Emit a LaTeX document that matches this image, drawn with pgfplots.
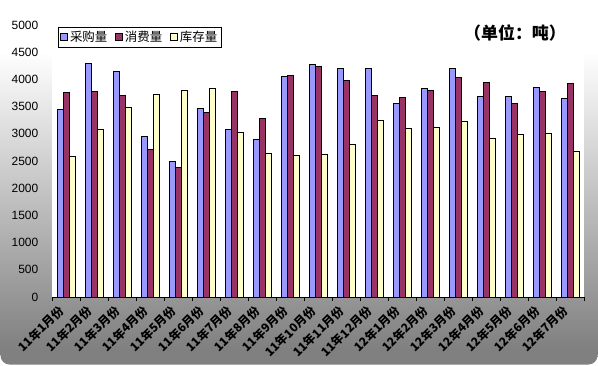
\documentclass[border=0pt]{standalone}
\usepackage{pgfplots}
\pgfplotsset{compat=1.18}
\usepackage{fontspec}
\setmainfont{Liberation Sans}
\newfontfamily\cjk{Noto Sans CJK SC}
\definecolor{cblue}{HTML}{9999FF}
\definecolor{cred}{HTML}{993366}
\definecolor{cyel}{HTML}{FFFFCC}
\pgfdeclareverticalshading{bgshade}{100bp}{color(0bp)=(gray); color(27bp)=(gray); color(68bp)=(white); color(100bp)=(white)}
\begin{document}
\begin{tikzpicture}[x=1bp,y=1bp]
\useasboundingbox (0,0) rectangle (598,365);
\shade[shading=bgshade, rounded corners=9bp] (0.5,0.5) rectangle (597.5,364.5);
\begin{axis}[at={(52bp,68bp)}, anchor=south west, scale only axis,
  width=532bp, height=272bp,
  ybar=0pt, bar width=6bp,
  ymin=0, ymax=5000, xmin=-0.5, xmax=18.5,
  ytick={0,500,...,5000},
  xtick={0,...,18},
  xticklabels={11年1月份,11年2月份,11年3月份,11年4月份,11年5月份,11年6月份,11年7月份,11年8月份,11年9月份,11年10月份,11年11月份,11年12月份,12年1月份,12年2月份,12年3月份,12年4月份,12年5月份,12年6月份,12年7月份},
  xticklabel style={font=\cjk\bfseries\fontsize{12}{13}\selectfont, rotate=45, anchor=east, xshift=-5bp, yshift=-2bp},
  major x tick style={draw=none},
  minor xtick={-0.5,0.5,...,18.5},
  minor x tick style={draw=black, line width=0.8bp},
  minor tick length=4bp,
  tick align=outside,
  axis x line*=bottom, axis y line*=left,
  y axis line style={draw=none},
  x axis line style={line width=1bp},
  ytick style={draw=none},
  yticklabel style={font=\fontsize{12}{14}\selectfont, xshift=-6bp},
  /pgf/number format/assume math mode=true,
  /pgf/number format/1000 sep={},
  axis background/.style={fill=white},
  legend columns=3,
  legend style={at={(0.0113,0.993)}, anchor=north west, draw=black, line width=0.8bp, fill=white,
    font=\cjk\fontsize{12.5}{14}\selectfont, inner sep=2bp,
    /tikz/every even column/.append style={column sep=6bp}},
  legend image code/.code={\draw[#1, draw=black, line width=0.6bp] (0bp,-3.5bp) rectangle (7bp,3.5bp);},
  every axis plot/.append style={draw=black, line width=0.8bp},
]
\addplot[fill=cblue] coordinates {(0,3440) (1,4295) (2,4150) (3,2955) (4,2495) (5,3470) (6,3080) (7,2900) (8,4055) (9,4280) (10,4205) (11,4205) (12,3560) (13,3835) (14,4205) (15,3690) (16,3690) (17,3855) (18,3650)};
\addplot[fill=cred] coordinates {(0,3765) (1,3780) (2,3705) (3,2715) (4,2385) (5,3395) (6,3780) (7,3285) (8,4080) (9,4245) (10,3985) (11,3705) (12,3670) (13,3800) (14,4040) (15,3945) (16,3560) (17,3780) (18,3930)};
\addplot[fill=cyel] coordinates {(0,2585) (1,3080) (2,3490) (3,3725) (4,3800) (5,3835) (6,3025) (7,2640) (8,2605) (9,2625) (10,2805) (11,3250) (12,3100) (13,3120) (14,3230) (15,2915) (16,2990) (17,3010) (18,2680)};
\legend{采购量,消费量,库存量}
\end{axis}
\node[font=\cjk\bfseries\fontsize{17}{19}\selectfont] at (515,332) {（单位：吨）};
\end{tikzpicture}
\end{document}
